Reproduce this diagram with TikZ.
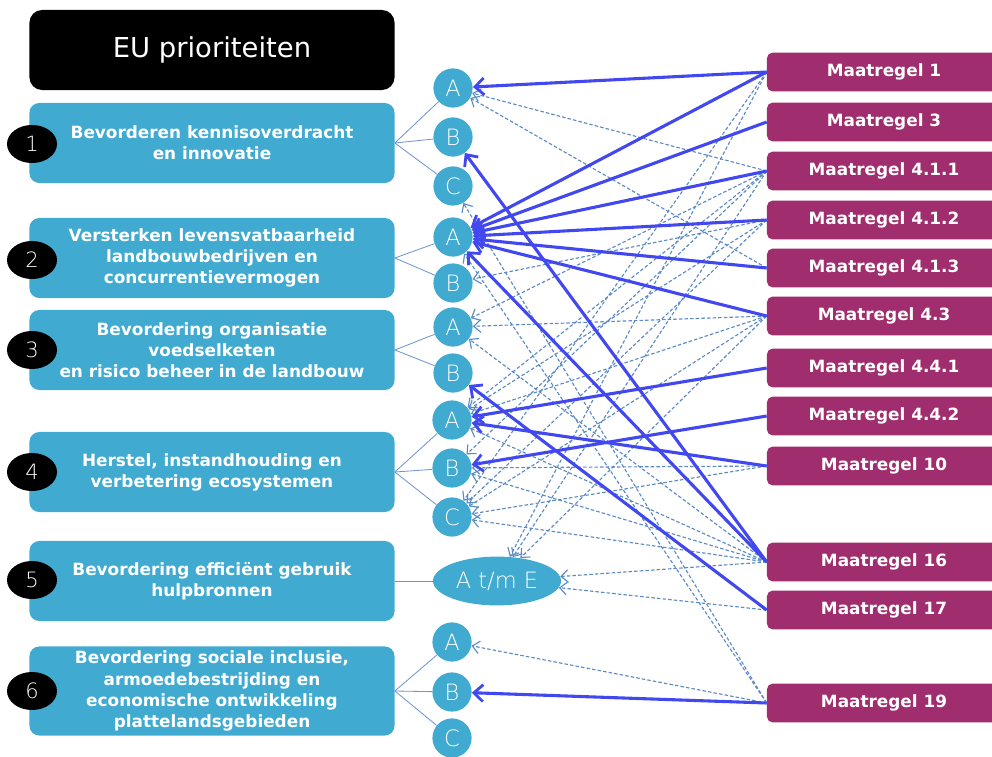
\documentclass[tikz,border=0pt]{standalone}
\usepackage{fontspec}
\setmainfont{DejaVu Sans}
\newfontfamily\thinfont{DejaVu Sans ExtraLight}
\usetikzlibrary{
	positioning,
	arrows.meta,
	shapes.geometric
}
\definecolor{prioblue}{RGB}{64,170,208}
\definecolor{maatpurple}{RGB}{160,46,110}
\definecolor{strongblue}{RGB}{66,72,240}
\definecolor{weakblue}{RGB}{90,138,196}
\definecolor{linkblue}{RGB}{112,150,210}

\begin{document}
\begin{tikzpicture}[
		x=0.025cm,
		y=-0.025cm,
		prio/.style={rectangle, rounded corners=7pt, fill=prioblue, text=white, minimum width=9.125cm, minimum height=2cm, align=center, font=\fontsize{12}{15}\selectfont\bfseries},
		nr/.style={ellipse, fill=black, text=white, minimum width=1.25cm, minimum height=0.95cm, inner sep=0pt, font=\thinfont\fontsize{15}{15}\selectfont},
		sub/.style={circle, fill=prioblue, text=white, minimum size=0.98cm, inner sep=0pt, font=\thinfont\fontsize{16}{16}\selectfont},
		maat/.style={rectangle, rounded corners=4pt, fill=maatpurple, text=white, minimum width=5.85cm, minimum height=0.97cm, font=\fontsize{12}{14}\selectfont\bfseries},
		link/.style={draw=linkblue, line width=0.6pt},
		main/.style={draw=strongblue, line width=2.2pt, -{Straight Barb[length=6.5pt, width=12pt, line width=2pt]}},
		side/.style={draw=weakblue, line width=0.8pt, dash pattern=on 2.5pt off 1.5pt, -{Straight Barb[length=5pt, width=9pt, line width=0.8pt]}}
		]
		
		\useasboundingbox (0,0) rectangle (992,756);
		
		\node[fill=black, rounded corners=9pt, minimum width=9.125cm, minimum height=2cm, text=white, font=\fontsize{19.5}{19.5}\selectfont] (title) at (212,50) {EU prioriteiten};
		
		\node[prio] (prio1) at (212,143) {Bevorderen kennisoverdracht\\en innovatie};
		\node[prio] (prio2) at (212,258) {Versterken levensvatbaarheid\\landbouwbedrijven en\\concurrentievermogen};
		\node[prio] (prio3) at (212,350) {Bevordering organisatie\\voedselketen\\en risico beheer in de landbouw};
		\node[prio] (prio4) at (212,472) {Herstel, instandhouding en\\verbetering ecosystemen};
		\node[prio] (prio5) at (212,581) {Bevordering efficiënt gebruik\\hulpbronnen};
		\node[prio] (prio6) at (212,691) {Bevordering sociale inclusie,\\armoedebestrijding en\\economische ontwikkeling\\plattelandsgebieden};
		
		\node[nr] (nr1) at (32,144) {1};
		\node[nr] (nr2) at (32,260) {2};
		\node[nr] (nr3) at (32,350) {3};
		\node[nr] (nr4) at (32,472) {4};
		\node[nr] (nr5) at (32,580) {5};
		\node[nr] (nr6) at (32,691) {6};
		
		\node[sub] (s1a) at (453,88) {A};
		\node[sub] (s1b) at (453,137) {B};
		\node[sub] (s1c) at (453,186) {C};
		\node[sub] (s2a) at (453,237) {A};
		\node[sub] (s2b) at (453,283) {B};
		\node[sub] (s3a) at (453,327) {A};
		\node[sub] (s3b) at (453,373) {B};
		\node[sub] (s4a) at (452,420) {A};
		\node[sub] (s4b) at (452,468) {B};
		\node[sub] (s4c) at (452,517) {C};
		\node[ellipse, fill=prioblue, text=white, minimum width=3.2cm, minimum height=1.22cm, inner sep=0pt, font=\thinfont\fontsize{16}{16}\selectfont] (s5) at (497,581) {A t/m E};
		\node[sub] (s6a) at (452,642) {A};
		\node[sub] (s6b) at (452,692) {B};
		\node[sub] (s6c) at (452,738) {C};
		
		\node[maat] (m1) at (884,72) {Maatregel 1};
		\node[maat] (m3) at (884,122) {Maatregel 3};
		\node[maat] (m411) at (884,171) {Maatregel 4.1.1};
		\node[maat] (m412) at (884,220) {Maatregel 4.1.2};
		\node[maat] (m413) at (884,268) {Maatregel 4.1.3};
		\node[maat] (m43) at (884,316) {Maatregel 4.3};
		\node[maat] (m441) at (884,368) {Maatregel 4.4.1};
		\node[maat] (m442) at (884,416) {Maatregel 4.4.2};
		\node[maat] (m10) at (884,466) {Maatregel 10};
		\node[maat] (m16) at (884,562) {Maatregel 16};
		\node[maat] (m17) at (884,610) {Maatregel 17};
		\node[maat] (m19) at (884,703) {Maatregel 19};
		
		\path (prio1.east) edge[link] (s1a) edge[link] (s1b) edge[link] (s1c);
		\path (prio2.east) edge[link] (s2a) edge[link] (s2b);
		\path (prio3.east) edge[link] (s3a) edge[link] (s3b);
		\path (prio4.east) edge[link] (s4a) edge[link] (s4b) edge[link] (s4c);
		\path (prio5.east) edge[link] (s5);
		\path (prio6.east) edge[link] (s6a) edge[link] (s6b) edge[link] (s6c);
		
		\path (m1.west) edge[side] (s5) edge[side] (s4c);
		\path (m411.west) edge[side] (s1a) edge[side] (s3a) edge[side] (s4a) edge[side] (s4b) edge[side] (s5);
		\path (m412.west) edge[side] (s2b) edge[side] (s4a) edge[side] (s4c);
		\path (m413.west) edge[side] (s1a);
		\path (m43.west) edge[side] (s3a) edge[side] (s4a) edge[side] (s4c) edge[side] (s5);
		\path (m10.west) edge[side] (s4b) edge[side] (s4c);
		\path (m16.west) edge[side] (s3a) edge[side] (s4a) edge[side] (s4b) edge[side] (s4c) edge[side] (s5);
		\path (m17.west) edge[side] (s5);
		\path (m19.west) edge[side] (s1c) edge[side] (s2a) edge[side] (s6a);
		
		\path (m1.west) edge[main] (s1a) edge[main] (s2a);
		\path (m3.west) edge[main] (s2a);
		\path (m411.west) edge[main] (s2a);
		\path (m412.west) edge[main] (s2a);
		\path (m413.west) edge[main] (s2a);
		\path (m43.west) edge[main] (s2a);
		\path (m441.west) edge[main] (s4a);
		\path (m442.west) edge[main] (s4b);
		\path (m10.west) edge[main] (s4a);
		\path (m16.west) edge[main] (s1b) edge[main] (s2a);
		\path (m17.west) edge[main] (s3b);
		\path (m19.west) edge[main] (s6b);
		
	\end{tikzpicture}
\end{document}
